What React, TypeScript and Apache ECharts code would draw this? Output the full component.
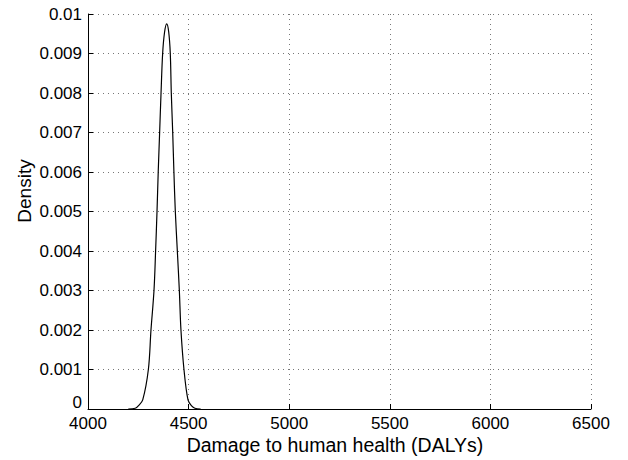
import React, { useEffect, useRef } from "react";
import * as echarts from "echarts";

// Kernel density curve
const damageValues: number[] = [
  4200, 4235, 4250, 4272, 4300, 4313, 4328, 4336, 4343, 4349, 4356, 4363, 4371, 4380, 4391,
  4401, 4409, 4414, 4421, 4427, 4434, 4444, 4454, 4462, 4477, 4497, 4515, 4531, 4560,
];
const densityValues: number[] = [
  0, 0.00002, 0.00008, 0.00023, 0.001, 0.002, 0.003, 0.004, 0.005, 0.006, 0.007, 0.008, 0.009, 0.00952, 0.00975,
  0.00955, 0.009, 0.008, 0.007, 0.006, 0.005, 0.004, 0.003, 0.002, 0.001, 0.00023, 0.00008, 0.00002, 0,
];

const xLabel = "Damage to human health (DALYs)";
const yLabel = "Density";

const FONT = "'Liberation Sans', Arial, Helvetica, sans-serif";

export default function App() {
  const ref = useRef<HTMLDivElement>(null);

  useEffect(() => {
    if (!ref.current) return;
    document.body.style.margin = "0";
    const chart = echarts.init(ref.current, null, { renderer: "svg" });
    const data = damageValues.map((x, i) => [x, densityValues[i]]);
    const gridLine = { show: true, lineStyle: { color: "#777", type: [1, 4] as any, width: 1 } };
    chart.setOption({
      animation: false,
      backgroundColor: "#fff",
      grid: { left: 88, right: 37, top: 14, bottom: 51, containLabel: false },
      xAxis: {
        type: "value",
        min: 4000,
        max: 6500,
        interval: 500,
        axisLine: { show: true, onZero: false, lineStyle: { color: "#000", width: 1 } },
        axisTick: { show: true, inside: true, length: 5, lineStyle: { color: "#000" } },
        axisLabel: {
          color: "#000",
          fontSize: 17,
          lineHeight: 12,
          fontFamily: FONT,
          margin: 8,
          formatter: (v: number) => String(v),
        },
        splitLine: gridLine,
      },
      yAxis: {
        type: "value",
        min: 0,
        max: 0.01,
        interval: 0.001,
        axisLine: { show: true, lineStyle: { color: "#000", width: 1 } },
        axisTick: { show: true, inside: true, length: 5, lineStyle: { color: "#000" } },
        axisLabel: {
          color: "#000",
          fontSize: 17,
          lineHeight: 12,
          fontFamily: FONT,
          margin: 6,
          formatter: (v: number) => (v === 0 ? "{z|0}" : String(+v.toFixed(3))),
          rich: {
            z: { fontSize: 17, lineHeight: 12, fontFamily: FONT, color: "#000", padding: [0, 0, 13, 0] },
          },
        },
        splitLine: gridLine,
      },
      graphic: [
        {
          type: "text",
          x: 335,
          y: 445,
          style: {
            text: xLabel,
            fontSize: 19.5,
            lineHeight: 20,
            fontFamily: FONT,
            fill: "#000",
            align: "center",
            verticalAlign: "middle",
          },
        },
        {
          type: "text",
          x: 24,
          y: 191,
          rotation: Math.PI / 2,
          style: {
            text: yLabel,
            fontSize: 19,
            lineHeight: 20,
            fontFamily: FONT,
            fill: "#000",
            align: "center",
            verticalAlign: "middle",
          },
        },
      ],
      series: [
        {
          type: "line",
          data,
          showSymbol: false,
          smooth: 0.35,
          lineStyle: { color: "#000", width: 1.2 },
          z: 5,
        },
      ],
    });
    return () => chart.dispose();
  }, []);

  return (
    <div
      ref={ref}
      style={{ position: "absolute", left: 0, top: 0, width: 628, height: 460, background: "#fff" }}
    />
  );
}
